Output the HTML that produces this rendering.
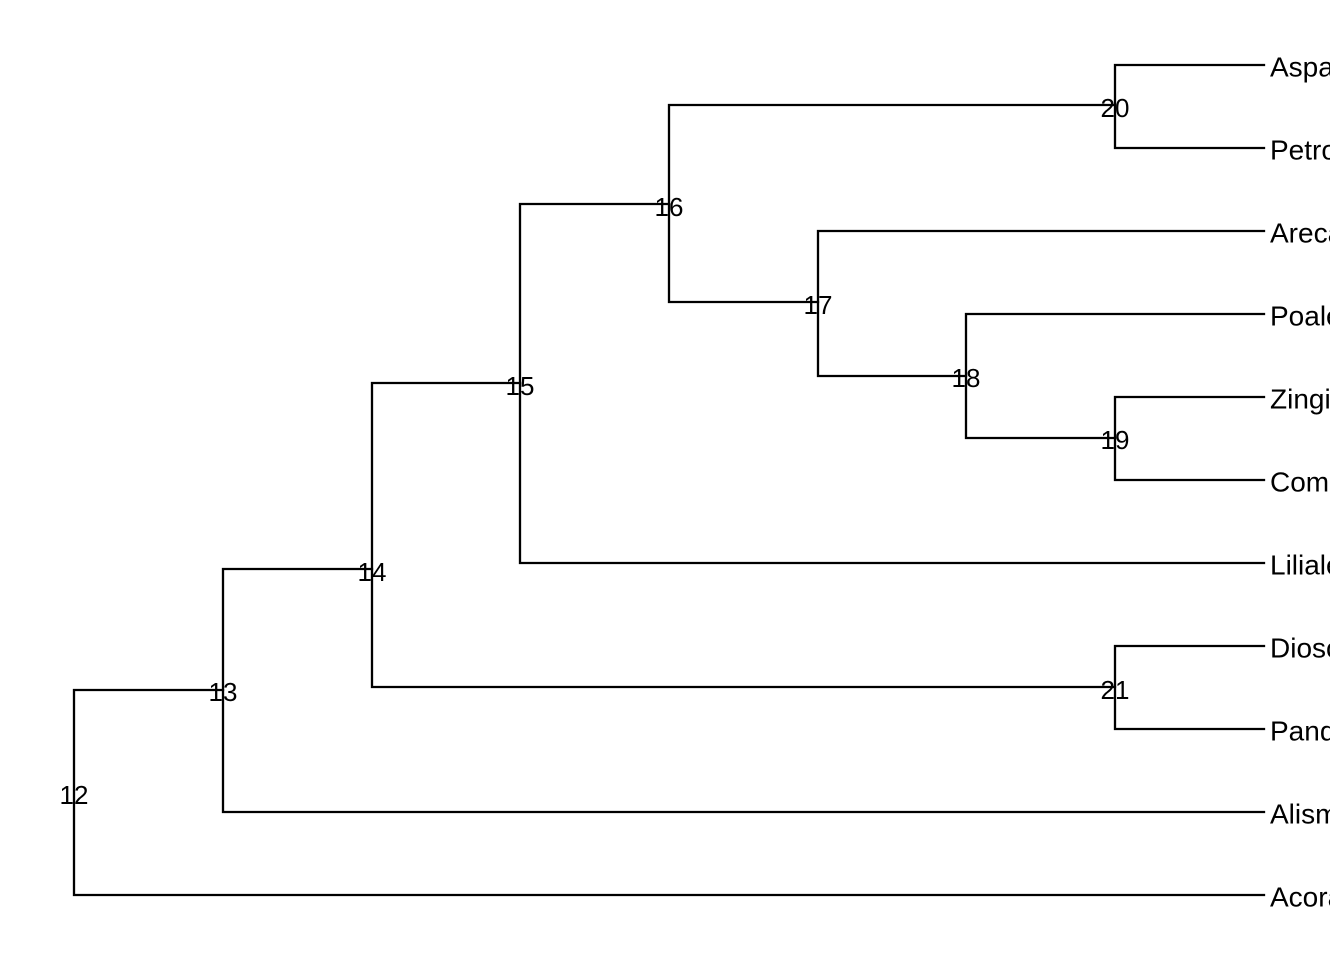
<!DOCTYPE html>
<html><head><style>html,body{margin:0;padding:0;background:#fff}svg{display:block}</style></head>
<body>
<svg width="1344" height="960" xmlns="http://www.w3.org/2000/svg" font-family="Liberation Sans, sans-serif" font-size="26">
<defs><clipPath id="c"><rect x="0" y="0" width="1330" height="960"/></clipPath></defs>
<g stroke="#000" stroke-width="2.3" fill="none" stroke-linecap="square">
<path d="M74 690V895M74 690H223M74 895H1264"/>
<path d="M223 569V812M223 569H372M223 812H1264"/>
<path d="M372 383V687M372 383H520M372 687H1115"/>
<path d="M520 204V563M520 204H669M520 563H1264"/>
<path d="M669 105V302M669 105H1115M669 302H818"/>
<path d="M818 231V376M818 231H1264M818 376H966"/>
<path d="M966 314V438M966 314H1264M966 438H1115"/>
<path d="M1115 397V480M1115 397H1264M1115 480H1264"/>
<path d="M1115 65V148M1115 65H1264M1115 148H1264"/>
<path d="M1115 646V729M1115 646H1264M1115 729H1264"/>
</g>
<g text-anchor="middle" dominant-baseline="central">
<text x="74" y="795">12</text><text x="223" y="692">13</text><text x="372" y="572">14</text>
<text x="520" y="386">15</text><text x="669" y="207">16</text><text x="818" y="305">17</text>
<text x="966" y="378">18</text><text x="1115" y="440">19</text><text x="1115" y="108">20</text>
<text x="1115" y="690">21</text>
</g>
<g clip-path="url(#c)" dominant-baseline="central" font-size="28">
<text x="1270" y="67">Asparagales</text><text x="1270" y="150">Petrosaviales</text>
<text x="1270" y="233">Arecales</text><text x="1270" y="316">Poales</text>
<text x="1270" y="399">Zingiberales</text><text x="1270" y="482">Commelinales</text>
<text x="1270" y="565">Liliales</text><text x="1270" y="648">Dioscoreales</text>
<text x="1270" y="731">Pandanales</text><text x="1270" y="814">Alismatales</text>
<text x="1270" y="897">Acorales</text>
</g>
</svg>
</body></html>
